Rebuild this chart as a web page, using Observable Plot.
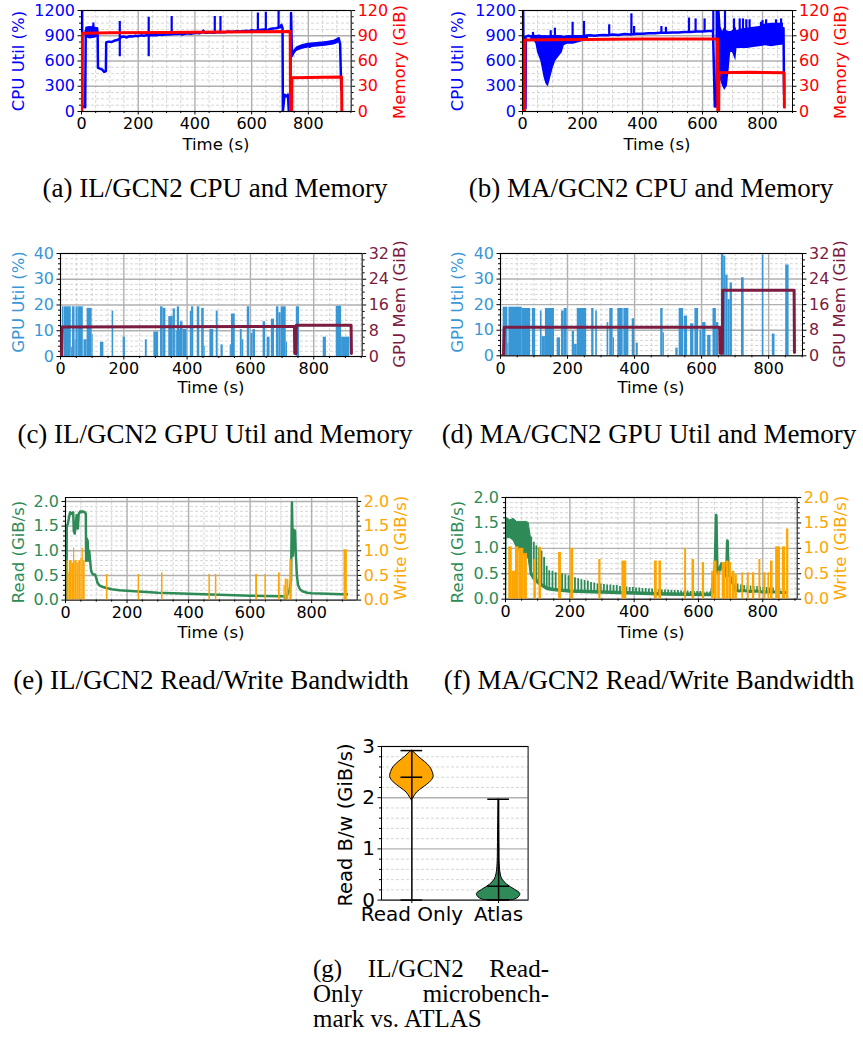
<!DOCTYPE html>
<html><head><meta charset="utf-8">
<script src="https://cdn.jsdelivr.net/npm/d3@7"></script>
<script src="https://cdn.jsdelivr.net/npm/@observablehq/plot@0.6"></script>
<style>
body{margin:0;background:#fff;}
#fig{position:relative;width:863px;height:1037px;overflow:hidden;background:#fff;font-family:"DejaVu Sans",sans-serif;}
.lab{position:absolute;white-space:nowrap;font-size:16.5px;line-height:1;transform:translate(-50%,-50%) rotate(-90deg);}
.xl{position:absolute;white-space:nowrap;font-size:16.5px;line-height:1;transform:translate(-50%,-50%);}
.cap{position:absolute;white-space:nowrap;font-family:"Liberation Serif",serif;font-size:27px;line-height:1;transform:translate(-50%,-50%);}
.jl{position:absolute;left:313px;width:236px;font-family:"Liberation Serif",serif;font-size:25px;line-height:25px;white-space:nowrap;}
.just{text-align:justify;text-align-last:justify;white-space:normal;}
</style></head>
<body><div id="fig"></div>
<script>
// ---------------- DATA ----------------
// (a) IL/GCN2 CPU util (%) [t, value]
const ilCpu = [[0,0],[2,1250],[3,60],[13,50],[15,960],[20,990],[25,940],[30,1000],[35,960],[40,1010],[45,970],[50,930],[55,990],[57,900],[58,520],[65,510],[72,500],[80,470],[86,480],[87,820],[95,830],[105,825],[115,840],[125,850],[133,860],[140,885],[150,890],[160,880],[170,895],[180,890],[190,900],[200,895],[210,905],[220,900],[230,905],[245,905],[255,910],[265,905],[275,915],[285,910],[295,915],[305,915],[322,920],[335,920],[345,925],[355,915],[365,925],[375,930],[385,925],[395,930],[405,935],[415,930],[425,940],[430,960],[435,935],[445,935],[455,940],[465,935],[475,940],[485,945],[500,940],[510,945],[520,950],[530,945],[540,950],[550,955],[560,950],[570,955],[580,960],[590,955],[600,965],[610,960],[625,965],[635,970],[645,975],[655,965],[665,980],[675,985],[685,990],[700,1000],[705,1030],[709,990],[710,0],[712,60],[716,200],[722,180],[728,200],[731,0],[736,0],[739,1170],[742,660],[745,680],[750,710],[755,730],[760,750],[770,760],[780,770],[790,775],[800,790],[805,770],[810,795],[820,800],[830,790],[840,815],[850,800],[860,820],[870,810],[880,825],[890,830],[900,840],[907,870],[912,800],[916,260]];
// noisy ranges [t, low, high]
const ilCpuBand1 = [[15,880,1000],[30,860,1010],[45,870,1000],[56,880,995]];
const ilCpuBand2 = [[742,640,690],[750,690,735],[760,715,770],[780,740,795],[800,755,810],[830,765,820],[860,775,830],[890,790,845],[908,810,875]];
// spikes [t, low, high]
const ilCpuSpikes = [[42,900,1050],[135,650,1070],[237,650,1120],[318,900,1130],[470,930,1130],[490,930,1130],[622,960,1170],[650,960,1180],[695,990,1190]];
// memory (GiB)
const ilMem = [[0,0],[1,0],[3,93],[100,93.5],[300,94],[500,94.5],[736,95],[737,0],[741,0],[742,40],[800,40.5],[917,41],[918,0]];

// (b) MA/GCN2 CPU util (%)
const maCpu = [[0,0],[2,1250],[5,30],[10,40],[11,890],[20,900],[28,890],[35,900],[45,895],[55,900],[65,890],[75,895],[85,880],[95,900],[105,890],[115,895],[125,890],[135,880],[145,885],[155,890],[165,885],[175,890],[185,895],[195,890],[210,900],[225,905],[240,900],[255,905],[270,910],[285,905],[300,915],[320,910],[340,920],[360,915],[380,925],[400,925],[420,930],[440,930],[460,935],[480,935],[500,940],[520,940],[540,945],[560,945],[580,950],[600,950],[620,955],[635,960],[641,60],[647,60],[650,900],[661,950],[670,900],[680,950],[690,920],[700,880],[720,900],[740,920],[760,930],[780,940],[800,950],[820,960],[840,970],[860,980],[870,990],[872,200]];
const maCpuBand1 = [[28,830,900],[39,840,900],[45,800,900],[50,700,900],[61,600,900],[72,400,890],[78,330,890],[86,290,900],[94,400,900],[103,520,900],[111,600,900],[122,650,900],[133,700,900],[139,780,890],[150,800,900],[170,800,900],[190,820,900],[200,830,900],[220,840,910]];
const maCpuBand2 = [[645,60,1250],[652,400,1250],[658,400,1250],[662,350,1000],[667,300,950],[674,250,1000],[683,300,950],[689,500,950],[694,700,950],[700,700,960],[711,600,1000],[715,750,960],[730,750,980],[750,750,990],[770,760,1000],[790,770,1010],[810,780,1040],[830,770,1050],[850,780,1050],[870,790,1050]];
const maCpuSpikes = [[35,880,940],[94,900,960],[108,900,990],[167,880,1060],[205,900,1070],[289,905,1030],[363,915,1160],[372,920,1010],[463,935,1010],[478,935,1000],[555,945,1110],[577,950,1100],[607,950,1100],[636,955,1250],[675,500,1250],[705,900,1100],[724,950,1100],[735,950,1100],[746,950,1090],[757,960,1090],[795,980,1060],[800,980,1080],[812,990,1090],[845,990,1090],[862,990,1100]];
const maMem = [[0,0],[7,0],[8,85],[200,85.5],[400,86],[650,86],[651,0],[654,0],[655,46],[760,46.5],[872,46],[873,5]];

// (c) IL/GCN2 GPU util (%) blocks [t start, t end, value]
const ilGpu = [[6,10,19.3],[11,34,19.3],[35,38,3.5],[38,46,19.3],[46,49,6.5],[49,56,19.3],[57,72,19.3],[74,84,6.5],[84,100,18.7],[100,103,8.5],[126,137,5.5],[163,168,17.6],[198,205,7.5],[268,274,6.5],[295,310,9.5],[316,324,19.3],[324,333,18.7],[342,356,15.5],[356,363,18.5],[365,369,10],[369,376,19.3],[376,380,10.5],[379,387,13.5],[387,400,10.5],[410,414,17.5],[414,421,19.3],[432,440,19.3],[446,454,18.7],[454,457,4],[472,484,10.5],[492,498,17.6],[507,514,4.5],[536,540,4.5],[540,552,16.5],[568,574,10.5],[574,579,6.5],[590,598,19.3],[602,608,9],[608,616,10.5],[640,648,13.5],[653,662,7.5],[666,676,14.5],[682,690,19.3],[690,697,17],[697,713,19.3],[713,717,5.5],[745,755,19.3],[830,840,7.5],[871,888,19.5],[888,914,7.5]];
const ilGpuMem = [[0,0],[3,0],[5,9.2],[739,9.3],[740,0.9],[744,0.9],[745,9.7],[918,9.7],[919,0.9]];

// (d) MA/GCN2 GPU util (%)
const maGpu = [[8,22,19],[22,25,5],[25,65,19],[65,90,18.5],[95,105,18.5],[119,124,17.5],[124,134,7.5],[134,161,18.5],[169,179,7],[182,190,17.5],[190,199,18.5],[214,221,9.5],[221,229,4.5],[229,257,18.5],[272,279,18.5],[284,289,17.5],[318,323,13],[326,336,18.5],[336,340,7],[350,366,18.5],[368,383,18.5],[393,400,14.5],[405,411,5],[478,485,18.5],[485,489,9],[523,530,3],[533,546,18.5],[548,558,15.5],[567,577,12.5],[580,591,18.5],[595,600,10],[603,613,13],[618,628,8],[634,644,18.5],[644,651,13],[659,666,40],[666,672,39],[672,679,31.5],[679,685,22],[685,692,28.5],[719,727,30.5],[781,786,39.5],[811,819,8.5],[851,861,35.5]];
const maGpuMem = [[0,0],[9,0],[11,8.9],[654,8.9],[655,0.8],[662,0.8],[663,20.5],[876,20.5],[877,1]];

// (e) IL/GCN2 read (GiB/s) [t, value]; write blocks [t1, t2, value]
const ilRead = [[0,0],[3,0],[4,1.5],[8,1.55],[12,1.7],[15,1.78],[20,1.75],[25,1.78],[27,1.4],[30,1.35],[33,1.5],[36,1.72],[40,1.45],[43,1.75],[48,1.8],[52,1.78],[56,1.8],[60,1.79],[63,1.78],[66,1.75],[67,0.8],[69,1.25],[72,1.2],[74,0.8],[77,1.0],[80,0.8],[83,0.6],[86,0.55],[90,0.52],[96,0.52],[100,0.45],[104,0.35],[110,0.3],[120,0.27],[130,0.25],[150,0.22],[175,0.2],[200,0.19],[250,0.17],[300,0.15],[350,0.14],[400,0.13],[450,0.12],[500,0.11],[550,0.1],[600,0.09],[650,0.085],[700,0.08],[712,0.08],[714,0.02],[720,0.1],[728,0.2],[733,0.4],[736,1.98],[739,0.9],[742,1.42],[746,1.4],[748,1.0],[752,0.5],[756,0.3],[762,0.22],[770,0.18],[785,0.15],[800,0.14],[850,0.13],[900,0.12],[915,0.12]];
const ilWrite = [[5,9,0.8],[9,12,0.55],[12,22,0.8],[22,26,0.75],[26,30,1.05],[30,38,0.8],[38,43,0.75],[43,50,0.8],[50,54,0.85],[54,58,1.05],[58,64,0.8],[133,138,0.52],[236,241,0.52],[312,317,0.55],[466,471,0.52],[487,492,0.52],[618,624,0.52],[648,653,0.52],[692,698,0.55],[710,714,0.3],[714,720,0.43],[720,726,0.42],[729,737,0.82],[905,916,1.02]];

// (f) MA/GCN2 read: dense start range [t, low, high], floor line, teeth [t, low, high], tail line; write blocks
const maReadBand = [[2,0,0.05],[3,1.2,1.6],[15,1.2,1.55],[25,1.15,1.58],[36,1.0,1.52],[50,0.9,1.52],[65,0.85,1.52],[72,0.8,1.5],[78,0.5,1.25],[80,0.5,1.22]];
const maReadFloor = [[80,0.5],[90,0.4],[100,0.34],[110,0.29],[120,0.25],[130,0.21],[150,0.19],[200,0.16],[300,0.14],[400,0.12],[500,0.1],[640,0.09]];
const maReadTeeth = [[80,0.5,1.22],[88,0.42,1.12],[96,0.36,1.05],[104,0.32,1.0],[112,0.28,0.95],[120,0.25,0.82],[128,0.22,0.65],[136,0.2,0.56],[146,0.19,0.55],[156,0.18,0.52],[166,0.18,0.51],[176,0.17,0.5],[186,0.17,0.48],[196,0.16,0.46],[206,0.16,0.45],[216,0.16,0.42],[226,0.15,0.4],[236,0.15,0.38],[246,0.15,0.37],[256,0.15,0.36],[266,0.14,0.33],[276,0.14,0.32],[286,0.14,0.3],[296,0.14,0.3],[306,0.14,0.29],[316,0.13,0.28],[326,0.13,0.28],[336,0.13,0.27],[346,0.13,0.27],[356,0.13,0.25],[366,0.12,0.25],[376,0.12,0.24],[386,0.12,0.23],[396,0.12,0.23],[406,0.12,0.22],[416,0.11,0.22],[426,0.11,0.21],[436,0.11,0.21],[446,0.11,0.2],[456,0.11,0.2],[466,0.1,0.19],[476,0.1,0.19],[486,0.1,0.18],[496,0.1,0.18],[506,0.1,0.18],[516,0.1,0.17],[526,0.1,0.17],[536,0.1,0.17],[546,0.1,0.16],[556,0.09,0.16],[566,0.09,0.16],[576,0.09,0.15],[586,0.09,0.15],[596,0.09,0.15],[606,0.09,0.15],[616,0.09,0.14],[626,0.09,0.14],[636,0.09,0.14]];
const maReadTail = [[640,0.1],[645,0.3],[648,0.15],[652,0.7],[655,1.65],[658,0.6],[662,0.5],[667,0.62],[672,0.7],[677,0.55],[682,0.6],[687,0.45],[690,1.15],[693,0.5],[698,0.45],[703,0.35],[708,0.3],[715,0.18],[725,0.16],[740,0.17],[760,0.15],[780,0.16],[800,0.14],[820,0.14],[840,0.14],[860,0.13],[870,0.13]];
const maReadTeeth2 = [[722,0.14,0.3],[732,0.14,0.28],[742,0.14,0.27],[752,0.14,0.27],[762,0.13,0.26],[772,0.13,0.25],[782,0.13,0.25],[792,0.13,0.24],[802,0.13,0.23],[812,0.12,0.23],[822,0.12,0.22],[832,0.12,0.22],[842,0.12,0.21],[852,0.12,0.21],[862,0.12,0.2]];
const maWrite = [[10,21,1.03],[21,31,0.55],[31,42,1.03],[42,57,1.0],[57,68,0.9],[88,96,0.78],[104,112,1.02],[165,174,0.92],[203,212,1.0],[290,297,0.78],[362,377,0.75],[463,472,0.75],[477,485,0.75],[557,563,1.0],[580,588,0.78],[612,619,0.72],[641,648,0.55],[648,658,0.75],[660,668,0.55],[674,684,0.72],[686,695,0.75],[695,703,0.72],[705,713,0.55],[713,721,0.48],[735,740,0.52],[752,758,0.52],[768,775,0.52],[788,794,0.78],[803,810,0.52],[816,821,0.52],[824,832,0.75],[840,855,1.03],[861,871,1.03],[874,881,1.38]];

// (g) violins: [read B/w, half-width]
const violinCats = ["Read Only", "Atlas"];
const roViolin = [[1.95,0],[2.0,0.02],[2.1,0.06],[2.2,0.135],[2.3,0.21],[2.4,0.25],[2.5,0.24],[2.6,0.21],[2.7,0.15],[2.8,0.076],[2.88,0.03],[2.92,0]];
const atViolin = [[0,0.17],[0.05,0.23],[0.12,0.25],[0.2,0.19],[0.3,0.1],[0.4,0.045],[0.5,0.025],[0.7,0.012],[1.0,0.008],[1.5,0.005],[1.97,0]];
const violinStats = [{pos:1, min:0, max:2.92, mean:2.4}, {pos:2, min:0, max:1.97, mean:0.27}];

// tick values
const xMajor = [0,200,400,600,800];
// ---------------- DRAWING ----------------
const fig = document.getElementById("fig");
function range(a,b,s){const r=[];for(let v=a;v<=b+1e-9;v+=s)r.push(+v.toFixed(6));return r;}
function minorOf(a,b,s,maj){return range(a,b,s).filter(v=>!maj.some(m=>Math.abs(m-v)<1e-9));}
function place(el,x,y){el.style.position="absolute";el.style.left=x+"px";el.style.top=y+"px";fig.appendChild(el);}
function styleOf(size){return `font-family:'DejaVu Sans',sans-serif;font-size:${size}px;background:transparent;overflow:visible;max-width:none;`;}
const noText = () => "";
const t0 = d=>d[0], t1 = d=>d[1], t2 = d=>d[2];

function dualPanel(p){
  const mL=80,mR=80,mT=10,mB=40;
  const W=(p.fx1-p.fx0)+mL+mR, H=(p.fy1-p.fy0)+mT+mB;
  const ox=p.fx0-mL, oy=p.fy0-mT;
  const xMinor = minorOf(0,p.xDomain[1],50,xMajor);
  const left = Plot.plot({
    width:W,height:H,marginLeft:mL,marginRight:mR,marginTop:mT,marginBottom:mB,
    style:styleOf(16),
    x:{domain:p.xDomain}, y:{domain:p.yDomL},
    marks:[
      Plot.ruleX(xMinor,{stroke:"#cccccc",strokeWidth:0.8,strokeDasharray:"3,2"}),
      Plot.ruleY(p.yMinL,{stroke:"#cccccc",strokeWidth:0.8,strokeDasharray:"3,2"}),
      Plot.ruleX(xMajor,{stroke:"#b0b0b0",strokeWidth:1.4}),
      Plot.ruleY(p.yTicksL,{stroke:"#b0b0b0",strokeWidth:1.4}),
      ...p.marksL,
      Plot.frame({stroke:"black",strokeWidth:1}),
      Plot.axisX({ticks:xMajor,tickSize:3.5,tickPadding:3,label:null,tickFormat:d=>String(d)}),
      Plot.axisX({ticks:xMinor,tickSize:2,label:null,tickFormat:noText}),
      Plot.axisY({ticks:p.yTicksL,tickSize:3.5,tickPadding:3,label:null,fill:p.colL,stroke:"black",tickFormat:p.fmt}),
      Plot.axisY({ticks:p.yMinL,tickSize:2,label:null,tickFormat:noText})
    ]
  });
  const right = Plot.plot({
    width:W,height:H,marginLeft:mL,marginRight:mR,marginTop:mT,marginBottom:mB,
    style:styleOf(16),
    x:{domain:p.xDomain,axis:null}, y:{domain:p.yDomR},
    marks:[
      ...p.marksR,
      Plot.axisY({anchor:"right",ticks:p.yTicksR,tickSize:3.5,tickPadding:3,label:null,fill:p.colR,stroke:"black",tickFormat:p.fmt}),
      Plot.axisY({anchor:"right",ticks:p.yMinR,tickSize:2,label:null,tickFormat:noText})
    ]
  });
  place(left,ox,oy); place(right,ox,oy);
}

const BLUE="#0000ff", RED="#ff0000", GPUC="#3a97d6", GMEM="#7b1c40", GREEN="#2e8b57", ORANGE="#ffa500";
const fInt = d=>String(d), f1 = d3.format(".1f");
const cpuT=[0,300,600,900,1200], memT=[0,30,60,90,120];

// (a)
dualPanel({fx0:81.3,fx1:351,fy0:10,fy1:111,xDomain:[0,951],
  yDomL:[0,1200],yTicksL:cpuT,yMinL:minorOf(0,1200,75,cpuT),colL:BLUE,fmt:fInt,
  yDomR:[0,120],yTicksR:memT,yMinR:minorOf(0,120,7.5,memT),colR:RED,
  marksL:[Plot.areaY(ilCpuBand1,{x:t0,y1:t1,y2:t2,fill:BLUE,clip:true}),
          Plot.areaY(ilCpuBand2,{x:t0,y1:t1,y2:t2,fill:BLUE,clip:true}),
          Plot.line(ilCpu,{x:t0,y:t1,stroke:BLUE,strokeWidth:2.5,clip:true}),
          Plot.ruleX(ilCpuSpikes,{x:t0,y1:t1,y2:t2,stroke:BLUE,strokeWidth:2.2,clip:true})],
  marksR:[Plot.line(ilMem,{x:t0,y:t1,stroke:RED,strokeWidth:3,clip:true})]});
// (b)
dualPanel({fx0:521.7,fx1:791.7,fy0:10,fy1:111,xDomain:[0,900],
  yDomL:[0,1200],yTicksL:cpuT,yMinL:minorOf(0,1200,75,cpuT),colL:BLUE,fmt:fInt,
  yDomR:[0,120],yTicksR:memT,yMinR:minorOf(0,120,7.5,memT),colR:RED,
  marksL:[Plot.areaY(maCpuBand1,{x:t0,y1:t1,y2:t2,fill:BLUE,clip:true}),
          Plot.areaY(maCpuBand2,{x:t0,y1:t1,y2:t2,fill:BLUE,clip:true}),
          Plot.line(maCpu,{x:t0,y:t1,stroke:BLUE,strokeWidth:2.5,clip:true}),
          Plot.ruleX(maCpuSpikes,{x:t0,y1:t1,y2:t2,stroke:BLUE,strokeWidth:2.2,clip:true})],
  marksR:[Plot.line(maMem,{x:t0,y:t1,stroke:RED,strokeWidth:3,clip:true})]});
// (c)
const gT=[0,10,20,30,40], gmT=[0,8,16,24,32];
dualPanel({fx0:60,fx1:361.7,fy0:252.7,fy1:355.7,xDomain:[0,953],
  yDomL:[0,40],yTicksL:gT,yMinL:minorOf(0,40,2,gT),colL:GPUC,fmt:fInt,
  yDomR:[0,32],yTicksR:gmT,yMinR:minorOf(0,32,2,gmT),colR:GMEM,
  marksL:[Plot.rectY(ilGpu,{x1:t0,x2:t1,y:t2,fill:GPUC,clip:true})],
  marksR:[Plot.line(ilGpuMem,{x:t0,y:t1,stroke:GMEM,strokeWidth:3,clip:true})]});
// (d)
dualPanel({fx0:500,fx1:802,fy0:252.7,fy1:355,xDomain:[0,901],
  yDomL:[0,40],yTicksL:gT,yMinL:minorOf(0,40,2,gT),colL:GPUC,fmt:fInt,
  yDomR:[0,32],yTicksR:gmT,yMinR:minorOf(0,32,2,gmT),colR:GMEM,
  marksL:[Plot.rectY(maGpu,{x1:t0,x2:t1,y:t2,fill:GPUC,clip:true})],
  marksR:[Plot.line(maGpuMem,{x:t0,y:t1,stroke:GMEM,strokeWidth:3,clip:true})]});
// (e)
const bwT=[0,0.5,1,1.5,2];
dualPanel({fx0:65,fx1:356.7,fy0:496.7,fy1:599.3,xDomain:[0,948],
  yDomL:[0,2.08],yTicksL:bwT,yMinL:minorOf(0,2.05,0.1,bwT),colL:GREEN,fmt:f1,
  yDomR:[0,2.08],yTicksR:bwT,yMinR:minorOf(0,2.05,0.1,bwT),colR:ORANGE,
  marksL:[Plot.line(ilRead,{x:t0,y:t1,stroke:GREEN,strokeWidth:2.5,clip:true})],
  marksR:[Plot.rectY(ilWrite,{x1:t0,x2:t1,y:t2,fill:ORANGE,clip:true})]});
// (f)
dualPanel({fx0:505,fx1:796.7,fy0:497,fy1:598.7,xDomain:[0,907],
  yDomL:[0,2],yTicksL:bwT,yMinL:minorOf(0,2,0.1,bwT),colL:GREEN,fmt:f1,
  yDomR:[0,2],yTicksR:bwT,yMinR:minorOf(0,2,0.1,bwT),colR:ORANGE,
  marksL:[Plot.areaY(maReadBand,{x:t0,y1:t1,y2:t2,fill:GREEN,stroke:GREEN,strokeWidth:1,clip:true}),
          Plot.line(maReadFloor,{x:t0,y:t1,stroke:GREEN,strokeWidth:3.5,clip:true}),
          Plot.ruleX(maReadTeeth,{x:t0,y1:t1,y2:t2,stroke:GREEN,strokeWidth:1.8,clip:true}),
          Plot.ruleX(maReadTeeth2,{x:t0,y1:t1,y2:t2,stroke:GREEN,strokeWidth:1.6,clip:true}),
          Plot.line(maReadTail,{x:t0,y:t1,stroke:GREEN,strokeWidth:3,clip:true})],
  marksR:[Plot.rectY(maWrite,{x1:t0,x2:t1,y:t2,fill:ORANGE,clip:true})]});

// (g) violin
(function(){
  const fx0=380.7,fx1=527.3,fy0=745.7,fy1=899.3, mL=80,mR=40,mT=12,mB=40;
  const vT=[0,1,2,3], vMin=minorOf(0,3,0.2,vT);
  const caps=[]; violinStats.forEach(s=>{caps.push({pos:s.pos,y:s.min});caps.push({pos:s.pos,y:s.max});caps.push({pos:s.pos,y:s.mean});});
  const g = Plot.plot({
    width:(fx1-fx0)+mL+mR,height:(fy1-fy0)+mT+mB,marginLeft:mL,marginRight:mR,marginTop:mT,marginBottom:mB,
    style:styleOf(20),
    x:{domain:[0.65,2.34]}, y:{domain:[0,3]},
    marks:[
      Plot.ruleY(vMin,{stroke:"#cccccc",strokeWidth:0.8,strokeDasharray:"3,2"}),
      Plot.ruleY(vT,{stroke:"#b0b0b0",strokeWidth:1.4}),
      Plot.areaX(roViolin,{y:t0,x1:d=>1-d[1],x2:d=>1+d[1],fill:ORANGE,stroke:"black",strokeWidth:1,curve:"catmull-rom"}),
      Plot.areaX(atViolin,{y:t0,x1:d=>2-d[1],x2:d=>2+d[1],fill:GREEN,stroke:"black",strokeWidth:1,curve:"catmull-rom"}),
      Plot.ruleX(violinStats,{x:"pos",y1:"min",y2:"max",stroke:"black",strokeWidth:1.5}),
      Plot.ruleY(caps,{y:"y",x1:d=>d.pos-0.125,x2:d=>d.pos+0.125,stroke:"black",strokeWidth:1.5}),
      Plot.frame({stroke:"black",strokeWidth:1}),
      Plot.axisX({ticks:[1,2],tickSize:3.5,tickPadding:3,label:null,tickFormat:d=>violinCats[d-1]}),
      Plot.axisY({ticks:vT,tickSize:3.5,tickPadding:3,label:null,tickFormat:fInt}),
      Plot.axisY({ticks:vMin,tickSize:2,label:null,tickFormat:noText})
    ]
  });
  place(g,fx0-mL,fy0-mT);
})();

// ---------------- TEXT ----------------
function addDiv(cls,text,x,y,color,extra){const d=document.createElement("div");d.className=cls;d.textContent=text;d.style.left=x+"px";d.style.top=y+"px";if(color)d.style.color=color;if(extra)Object.assign(d.style,extra);fig.appendChild(d);return d;}
const yLabels=[["CPU Util (%)",19,61,BLUE],["Memory (GiB)",400,62,RED],["CPU Util (%)",458,61,BLUE],["Memory (GiB)",841,62,RED],
 ["GPU Util (%)",18.5,302,GPUC],["GPU Mem (GiB)",400,304,GMEM],["GPU Util (%)",458,302,GPUC],["GPU Mem (GiB)",840,304,GMEM],
 ["Read (GiB/s)",18.5,552,GREEN],["Write (GiB/s)",401,548,ORANGE],["Read (GiB/s)",458,552,GREEN],["Write (GiB/s)",841,548,ORANGE]];
yLabels.forEach(l=>addDiv("lab",l[0],l[1],l[2],l[3]));
addDiv("lab","Read B/w (GiB/s)",346,825,"#000",{fontSize:"19.5px"});
[[216,145],[657,145],[211,388],[651,388],[211,633],[651,633]].forEach(p=>addDiv("xl","Time (s)",p[0],p[1],"#000"));
const captions=[["(a) IL/GCN2 CPU and Memory",215,188],["(b) MA/GCN2 CPU and Memory",651,188],
 ["(c) IL/GCN2 GPU Util and Memory",215,434],["(d) MA/GCN2 GPU Util and Memory",649,434],
 ["(e) IL/GCN2 Read/Write Bandwidth",211,680],["(f) MA/GCN2 Read/Write Bandwidth",649,680]];
captions.forEach(c=>addDiv("cap",c[0],c[1],c[2],"#000"));
addDiv("jl just","(g) IL/GCN2 Read-",313,968-12.5,"#000");
addDiv("jl just","Only microbench-",313,993-12.5,"#000");
addDiv("jl","mark vs. ATLAS",313,1018-12.5,"#000");
</script></body></html>
